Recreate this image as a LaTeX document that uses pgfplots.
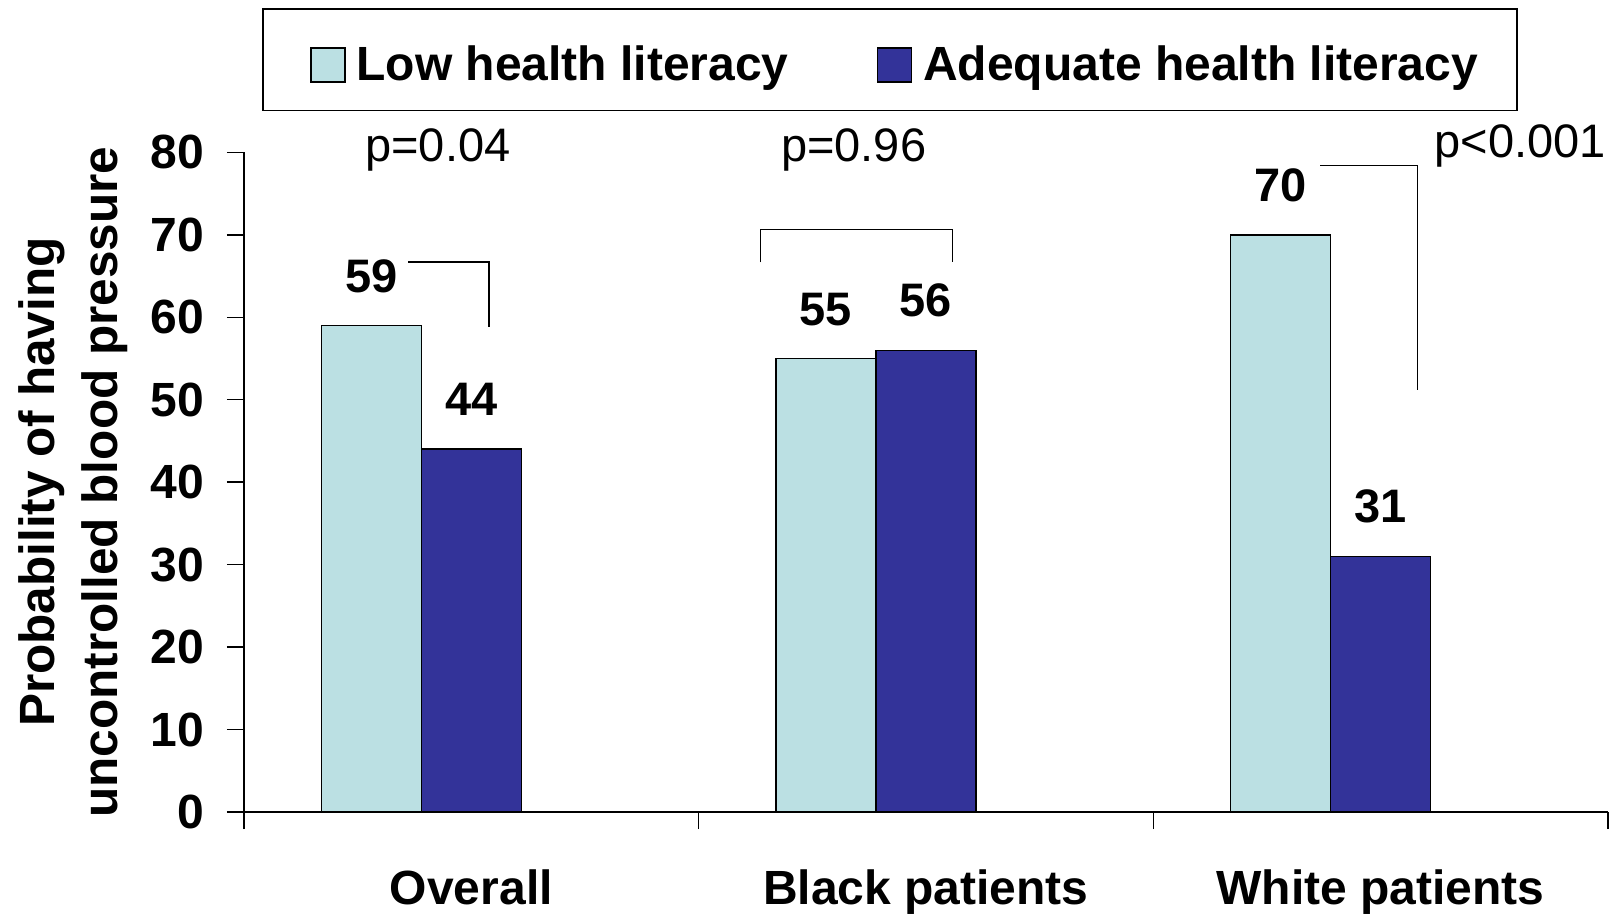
\documentclass[border=0pt]{standalone}
\usepackage{fontspec}
\setmainfont{Liberation Sans}
\usepackage{pgfplots}
\pgfplotsset{compat=1.18}
\definecolor{lightbar}{RGB}{187,224,227}
\definecolor{darkbar}{RGB}{51,51,153}
\newcommand{\bigf}{\fontsize{47bp}{56bp}\selectfont}
\begin{document}
\begin{tikzpicture}
\begin{axis}[
  at={(244bp,108bp)}, anchor=south west,
  width=1364bp, height=659.6bp, scale only axis,
  xmin=0, xmax=3, ymin=0, ymax=80,
  clip=false,
  axis x line*=bottom, axis y line*=left,
  axis line style={line width=1.5bp, -},
  tick align=outside,
  major tick length=17bp,
  tick style={line width=1.5bp, black},
  xtick={0,1,2,3}, xticklabels={},
  ytick={0,10,...,80},
  extra x ticks={0.5,1.5,2.5},
  extra x tick labels={Overall,Black patients,White patients},
  extra x tick style={major tick length=0pt, xticklabel style={anchor=base, inner sep=0pt, yshift=-92bp}},
  /pgf/number format/assume math mode=true,
  ticklabel style={font=\fontsize{48bp}{56bp}\selectfont\bfseries},
  yticklabel style={anchor=east, inner sep=0pt, xshift=-22.5bp},
  ylabel={Probability of having\\uncontrolled blood pressure},
  ylabel style={align=center, font=\fontsize{49.5bp}{63bp}\selectfont\bfseries, at={(axis description cs:-0.125,0.5)}, anchor=center},
  legend columns=2,
  legend style={at={(0.4736,1.2185)}, anchor=north, draw=black, line width=1.5bp,
    font=\fontsize{48bp}{56bp}\selectfont\bfseries, inner xsep=39bp, inner ysep=28bp,
    nodes={inner sep=0pt},
    /tikz/every odd column/.append style={column sep=11bp},
    /tikz/every even column/.append style={column sep=80bp}},
  nodes near coords,
  nodes near coords style={font=\bigf\bfseries, anchor=base, inner sep=0pt, yshift=33.5bp, black},
]
\addplot[ybar, bar width=0.22, bar shift=0pt, fill=lightbar, draw=black, line width=1.5bp,
  legend image code/.code={\path (-8bp,26bp); \draw[fill=lightbar, draw=black, line width=1.5bp] (0bp,-18bp) rectangle (34bp,16bp);}]
  coordinates {(0.28,59) (1.28,55) (2.28,70)};
\addlegendentry{Low health literacy}
\addplot[ybar, bar width=0.22, bar shift=0pt, fill=darkbar, draw=black, line width=1.5bp,
  legend image code/.code={\path (-8bp,26bp); \draw[fill=darkbar, draw=black, line width=1.5bp] (0bp,-18bp) rectangle (34bp,16bp);}]
  coordinates {(0.50,44) (1.50,56) (2.50,31)};
\addlegendentry{Adequate health literacy}
\draw[line width=1.3bp] (axis cs:0.3608,66.72) -- (axis cs:0.539,66.72) -- (axis cs:0.539,58.84);
\draw[line width=1.3bp] (axis cs:1.1357,66.67) -- (axis cs:1.1357,70.64) -- (axis cs:1.5587,70.64) -- (axis cs:1.5587,66.67);
\draw[line width=1.3bp] (axis cs:2.3676,78.40) -- (axis cs:2.5803,78.40) -- (axis cs:2.5803,51.16);
\node[anchor=base, font=\bigf, inner sep=0pt] at (axis cs:0.4263,78.84) {p=0.04};
\node[anchor=base, font=\bigf, inner sep=0pt] at (axis cs:1.341,78.85) {p=0.96};
\node[anchor=base, font=\bigf, inner sep=0pt] at (axis cs:2.807,79.33) {p<0.001};
\end{axis}
\pgfresetboundingbox
\useasboundingbox (0,0) rectangle (1619bp,920bp);
\end{tikzpicture}
\end{document}
